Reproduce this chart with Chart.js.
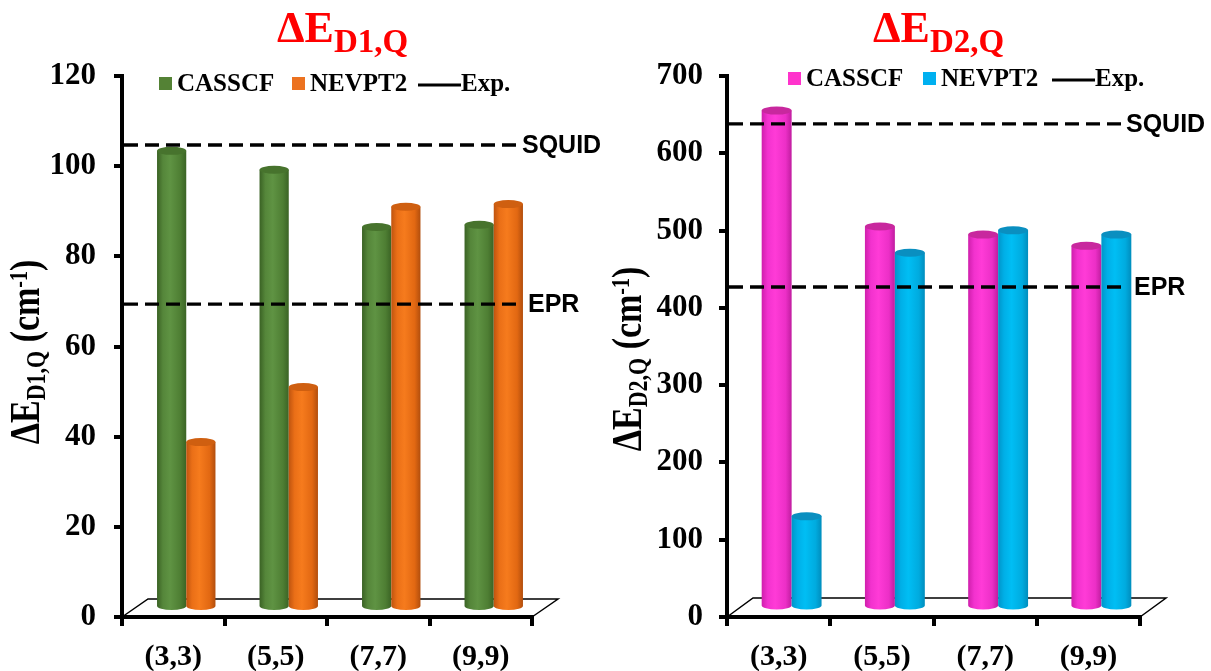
<!DOCTYPE html>
<html>
<head>
<meta charset="utf-8">
<script src="https://cdn.jsdelivr.net/npm/chart.js@4.4.1/dist/chart.umd.min.js"></script>
<style>
  html, body { margin: 0; padding: 0; background: #fff; }
  #wrap { position: relative; width: 1211px; height: 671px; }
  #c1 { position: absolute; left: 0; top: 0; }
  #c2 { position: absolute; left: 600px; top: 0; }
</style>
</head>
<body>
<div id="wrap">
  <canvas id="c1" width="600" height="671"></canvas>
  <canvas id="c2" width="611" height="671"></canvas>
</div>
<script>
// data
const categories  = ['(3,3)', '(5,5)', '(7,7)', '(9,9)'];
const seriesNames = ['CASSCF', 'NEVPT2'];
const expLabels   = ['SQUID', 'EPR'];

const d1Casscf = [101.4, 97.2, 84.5, 85.0];
const d1Nevpt2 = [36.8, 49.0, 89.0, 89.6];
const d1Exp    = [104.7, 69.4];
const d1Ticks  = [0, 20, 40, 60, 80, 100, 120];

const d2Casscf = [643, 493, 482.5, 468];
const d2Nevpt2 = [118, 459, 488, 482.5];
const d2Exp    = [638, 427];
const d2Ticks  = [0, 100, 200, 300, 400, 500, 600, 700];

// cylinder looks
const stopPos = [0, 0.2, 0.45, 0.8, 1];
const looks = {
  green:   { stops: ['#3a6224', '#55863a', '#5f9343', '#4e7e33', '#3b6425'], top: '#47732d', key: '#548235' },
  orange:  { stops: ['#bf540f', '#ea6f17', '#f67b1d', '#e26812', '#b24e0d'], top: '#cf5f10', key: '#ec7220' },
  magenta: { stops: ['#cf1fac', '#f232ce', '#ff3bd7', '#ec2fc7', '#c01d9f'], top: '#c8289e', key: '#ff33cc' },
  cyan:    { stops: ['#0095c9', '#00afe7', '#00bef4', '#00abdf', '#008dbd'], top: '#0a8fc0', key: '#00b0f0' }
};

const serif = '"Liberation Serif", "Times New Roman", serif';
const sans  = '"Liberation Sans", Arial, sans-serif';

const cylPlugin = {
  id: 'cyl',
  beforeDatasetsDraw(chart, args, o) {
    const { ctx, chartArea: a } = chart;
    ctx.save();
    ctx.beginPath();
    ctx.moveTo(a.left, a.bottom);
    ctx.lineTo(a.left + o.depth[0], a.bottom - o.depth[1]);
    ctx.lineTo(a.right + o.depth[0], a.bottom - o.depth[1]);
    ctx.lineTo(a.right, a.bottom);
    ctx.lineWidth = 1.5;
    ctx.strokeStyle = '#000';
    ctx.stroke();
    ctx.restore();
  },
  afterDatasetsDraw(chart, args, o) {
    const ctx = chart.ctx;
    const sx = o.depth[0] / 2, sy = o.depth[1] / 2;
    chart.data.datasets.forEach((ds, i) => {
      const look = looks[ds.look];
      chart.getDatasetMeta(i).data.forEach(bar => {
        const { x, y, base, width } = bar.getProps(['x', 'y', 'base', 'width'], true);
        const cx = x + sx, rx = width / 2, ry = 4;
        const l = cx - rx, r = cx + rx, top = y - sy, bot = base - sy;
        const g = ctx.createLinearGradient(l, 0, r, 0);
        look.stops.forEach((c, k) => g.addColorStop(stopPos[k], c));
        ctx.save();
        ctx.fillStyle = g;
        ctx.beginPath();
        ctx.moveTo(l, top);
        ctx.lineTo(l, bot);
        ctx.ellipse(cx, bot, rx, ry, 0, Math.PI, 0, true);
        ctx.lineTo(r, top);
        ctx.closePath();
        ctx.fill();
        ctx.fillStyle = look.top;
        ctx.beginPath();
        ctx.ellipse(cx, top, rx, ry, 0, 0, Math.PI * 2);
        ctx.fill();
        ctx.restore();
      });
    });

    // experimental reference lines
    const a = chart.chartArea, ys = chart.scales.y;
    const end = a.right - o.lineEnd;
    ctx.save();
    ctx.strokeStyle = '#000';
    ctx.lineWidth = 3.3;
    ctx.setLineDash([14, 7]);
    ctx.font = 'bold 25px ' + sans;
    ctx.fillStyle = '#000';
    ctx.textBaseline = 'middle';
    o.exp.forEach((v, k) => {
      const py = ys.getPixelForValue(v);
      ctx.beginPath();
      ctx.moveTo(a.left + 2, py);
      ctx.lineTo(end, py);
      ctx.stroke();
      ctx.fillText(expLabels[k], end + o.labelGap[k], py + 1);
    });
    ctx.restore();
  },
  afterDraw(chart, args, o) {
    const ctx = chart.ctx;
    ctx.save();
    // title
    ctx.fillStyle = '#ff0000';
    ctx.textBaseline = 'alphabetic';
    ctx.font = 'bold 44px ' + serif;
    ctx.fillText('ΔE', o.titleX, 42);
    const w = ctx.measureText('ΔE').width;
    ctx.font = 'bold 33px ' + serif;
    ctx.fillText(o.sub, o.titleX + w, 52);

    // legend
    const lg = o.legend;
    ctx.font = 'bold 25px ' + serif;
    ctx.fillStyle = looks[chart.data.datasets[0].look].key;
    ctx.fillRect(lg.x[0], lg.y, 13, 13);
    ctx.fillStyle = looks[chart.data.datasets[1].look].key;
    ctx.fillRect(lg.x[1], lg.y, 13, 13);
    ctx.fillStyle = '#000';
    ctx.fillText(seriesNames[0], lg.x[0] + 18, lg.y + 14);
    ctx.fillText(seriesNames[1], lg.x[1] + 18, lg.y + 14);
    ctx.beginPath();
    ctx.moveTo(lg.x[2], lg.y + 8);
    ctx.lineTo(lg.x[2] + 43, lg.y + 8);
    ctx.lineWidth = 3;
    ctx.strokeStyle = '#000';
    ctx.stroke();
    ctx.fillText('Exp.', lg.x[2] + 43, lg.y + 14);

    // rotated y title, stretched across its line
    const parts = [['ΔE', 34, 0], [o.sub, 22, 5], [' (cm', 34, 0], ['-1', 20, -10], [')', 34, 0]];
    const widths = parts.map(p => { ctx.font = `bold ${p[1]}px ${serif}`; return ctx.measureText(p[0]).width; });
    const total = widths.reduce((s, v) => s + v, 0);
    ctx.translate(o.yTitle[0], o.yTitle[1]);
    ctx.rotate(-Math.PI / 2);
    ctx.scale(1, 1.25);
    let u = -total / 2;
    parts.forEach((p, k) => {
      ctx.font = `bold ${p[1]}px ${serif}`;
      ctx.fillText(p[0], u, p[2]);
      u += widths[k];
    });
    ctx.restore();
  }
};

function makePanel(p) {
  return new Chart(document.getElementById(p.canvas), {
    type: 'bar',
    data: {
      labels: categories,
      datasets: [
        { label: seriesNames[0], data: p.casscf, look: p.looks[0], backgroundColor: 'rgba(0,0,0,0)', borderWidth: 0 },
        { label: seriesNames[1], data: p.nevpt2, look: p.looks[1], backgroundColor: 'rgba(0,0,0,0)', borderWidth: 0 }
      ]
    },
    options: {
      responsive: false,
      animation: false,
      devicePixelRatio: 1,
      layout: { padding: { left: 0, right: p.padRight, top: 76, bottom: 0 } },
      datasets: { bar: { categoryPercentage: p.catPct, barPercentage: 1 } },
      plugins: {
        legend: { display: false },
        tooltip: { enabled: false },
        cyl: p.deco
      },
      scales: {
        x: {
          grid: { offset: true, drawOnChartArea: false, drawTicks: true, tickLength: 9, lineWidth: 4, color: '#000' },
          border: { display: true, width: 4, color: '#000' },
          ticks: { color: '#000', padding: 13, font: { family: serif, weight: 'bold', size: 30 } },
          afterFit: s => { s.height = 671 - 617; }
        },
        y: {
          min: 0,
          max: p.ticks[p.ticks.length - 1],
          afterBuildTicks: s => { s.ticks = p.ticks.map(v => ({ value: v })); },
          grid: { drawOnChartArea: false, drawTicks: true, tickLength: 8, lineWidth: 4, color: '#000' },
          border: { display: true, width: 4, color: '#000' },
          ticks: { color: '#000', padding: p.tickPad, font: { family: serif, weight: 'bold', size: 31 } },
          afterFit: s => { s.width = p.axisX; }
        }
      }
    },
    plugins: [cylPlugin]
  });
}

makePanel({
  canvas: 'c1', casscf: d1Casscf, nevpt2: d1Nevpt2, ticks: d1Ticks, looks: ['green', 'orange'],
  axisX: 122, padRight: 600 - 532, tickPad: 18, catPct: 0.57,
  deco: {
    depth: [26, 18], exp: d1Exp, lineEnd: 12, labelGap: [2, 8], sub: 'D1,Q', titleX: 277,
    legend: { x: [159, 292, 418], y: 77 }, yTitle: [39, 352]
  }
});

makePanel({
  canvas: 'c2', casscf: d2Casscf, nevpt2: d2Nevpt2, ticks: d2Ticks, looks: ['magenta', 'cyan'],
  axisX: 127, padRight: 611 - 540, tickPad: 16, catPct: 0.58,
  deco: {
    depth: [26, 19], exp: d2Exp, lineEnd: 16, labelGap: [2, 10], sub: 'D2,Q', titleX: 273,
    legend: { x: [188, 323, 452], y: 72 }, yTitle: [41, 359]
  }
});
</script>
</body>
</html>
